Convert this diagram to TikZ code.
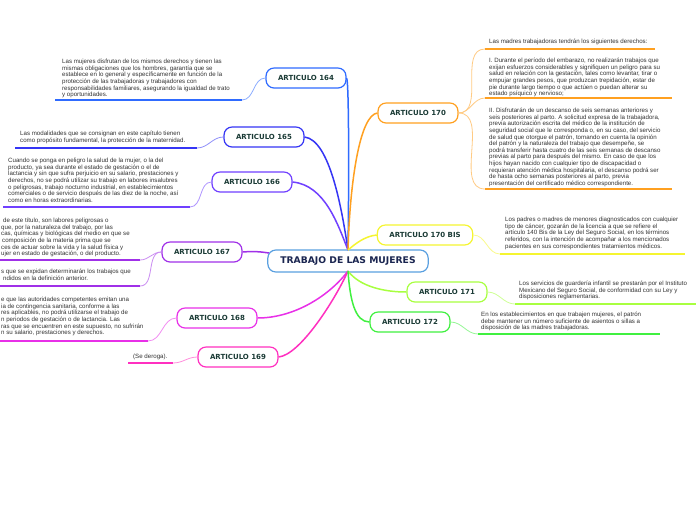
\documentclass[tikz,border=0pt]{standalone}
\usepackage{fontspec}
\setmainfont{Liberation Sans}
\newfontfamily\labelfont{DejaVu Sans}
\definecolor{c164}{HTML}{2F6BFF}
\definecolor{c165}{HTML}{3535F5}
\definecolor{c166}{HTML}{7040FF}
\definecolor{c167}{HTML}{A030E8}
\definecolor{c168}{HTML}{E830E8}
\definecolor{c169}{HTML}{FF30C0}
\definecolor{c170}{HTML}{FFA020}
\definecolor{c170b}{HTML}{F5F530}
\definecolor{c171}{HTML}{A8FF40}
\definecolor{c172}{HTML}{40F040}
\definecolor{ccen}{HTML}{5AA0E0}
\definecolor{labelcol}{HTML}{1B3B36}
\definecolor{titlecol}{HTML}{1A2550}
\definecolor{textcol}{HTML}{333333}
\tikzset{
  art/.style={draw=#1, rounded corners=8pt, line width=1.2pt, fill=white,
    minimum height=20pt, inner xsep=12pt, inner ysep=0pt,
    font=\labelfont\bfseries\fontsize{7}{8}\selectfont, text=labelcol},
  leaf/.style={anchor=north west, align=left, inner sep=0pt,
    font=\fontsize{6.15}{6.6}\selectfont, text=textcol},
  main/.style={draw=#1, line width=1.5pt},
  twig/.style={draw=#1!55!white, line width=0.8pt},
  uline/.style={draw=#1, line width=2pt},
}
\begin{document}
\begin{tikzpicture}[x=1pt,y=-1pt]
\useasboundingbox (0,0) rectangle (696,520);
\fill[white] (0,0) rectangle (696,520);

% central node
\node[draw=ccen, rounded corners=8pt, line width=1.2pt, fill=white,
  minimum height=22pt, inner xsep=12.5pt, inner ysep=0pt,
  font=\labelfont\bfseries\fontsize{9.2}{10}\selectfont, text=titlecol]
  (cen) at (348,261) {TRABAJO DE LAS MUJERES};
\coordinate (ctop) at (348,250);
\coordinate (cbot) at (348,271);
\coordinate (cleft) at (269,253);

% article nodes
\node[art=c164] (a164) at (306,78) {ARTICULO 164};
\node[art=c165] (a165) at (264,137) {ARTICULO 165};
\node[art=c166] (a166) at (252,182) {ARTICULO 166};
\node[art=c167] (a167) at (202,252) {ARTICULO 167};
\node[art=c168] (a168) at (217,318) {ARTICULO 168};
\node[art=c169] (a169) at (238,357) {ARTICULO 169};
\node[art=c170] (a170) at (418,113) {ARTICULO 170};
\node[art=c170b] (a170b) at (425,235) {ARTICULO 170 BIS};
\node[art=c171] (a171) at (447,292) {ARTICULO 171};
\node[art=c172] (a172) at (410,322) {ARTICULO 172};

% main connectors
\draw[main=c164] (a164.east) .. controls (349,80) and (349,180) .. (ctop);
\draw[main=c165] (a165.east) .. controls (330,140) and (342,210) .. (ctop);
\draw[main=c166] (a166.east) .. controls (325,185) and (338,225) .. (ctop);
\draw[main=c170] (a170.west) .. controls (360,115) and (350,180) .. (ctop);
\draw[main=c170b] (a170b.west) .. controls (365,236) and (355,244) .. (ctop);
\draw[main=c167] (a167.east) .. controls (255,251) and (262,252) .. (cleft);
\draw[main=c168] (a168.east) .. controls (295,318) and (330,295) .. (cbot);
\draw[main=c169] (a169.east) .. controls (300,355) and (335,300) .. (cbot);
\draw[main=c171] (cbot) .. controls (360,287) and (385,292) .. (a171.west);
\draw[main=c172] (cbot) .. controls (350,300) and (355,322) .. (a172.west);

% ---- leaf texts ----
% 164
\node[leaf] (t164) at (62,59) {Las mujeres disfrutan de los mismos derechos y tienen las\\
mismas obligaciones que los hombres, garantía que se\\
establece en lo general y específicamente en función de la\\
protección de las trabajadoras y trabajadores con\\
responsabilidades familiares, asegurando la igualdad de trato\\
y oportunidades.};
\coordinate (u164e) at (242,100); \coordinate (u164w) at (55,100);
\draw[twig=c164] (a164.west) to[out=180,in=0] (u164e);
\draw[uline=c164] (u164e) -- (u164w);

% 165
\node[leaf] (t165) at (20,131) {Las modalidades que se consignan en este capítulo tienen\\
como propósito fundamental, la protección de la maternidad.};
\coordinate (u165e) at (197,148); \coordinate (u165w) at (15,148);
\draw[twig=c165] (a165.west) to[out=180,in=0] (u165e);
\draw[uline=c165] (u165e) -- (u165w);

% 166
\node[leaf] (t166) at (8,158) {Cuando se ponga en peligro la salud de la mujer, o la del\\
producto, ya sea durante el estado de gestación o el de\\
lactancia y sin que sufra perjuicio en su salario, prestaciones y\\
derechos, no se podrá utilizar su trabajo en labores insalubres\\
o peligrosas, trabajo nocturno industrial, en establecimientos\\
comerciales o de servicio después de las diez de la noche, así\\
como en horas extraordinarias.};
\coordinate (u166e) at (190,207); \coordinate (u166w) at (3,207);
\draw[twig=c166] (a166.west) to[out=180,in=0] (u166e);
\draw[uline=c166] (u166e) -- (u166w);

% 167
\node[leaf] (t167a) at (1,218) {\hspace{2pt}de este título, son labores peligrosas o\\
que, por la naturaleza del trabajo, por las\\
cas, químicas y biológicas del medio en que se\\
\hspace{1pt}composición de la materia prima que se\\
ces de actuar sobre la vida y la salud física y\\
ujer en estado de gestación, o del producto.};
\coordinate (u167ae) at (140,260); \coordinate (u167aw) at (0,260);
\draw[twig=c167] (a167.west) to[out=180,in=0] (u167ae);
\draw[uline=c167] (u167ae) -- (u167aw);
\node[leaf] (t167b) at (1,269) {s que se expidan determinarán los trabajos que\\
\hspace{2pt}ndidos en la definición anterior.};
\coordinate (u167be) at (140,286); \coordinate (u167bw) at (0,286);
\draw[twig=c167] (a167.west) to[out=180,in=0] (u167be);
\draw[uline=c167] (u167be) -- (u167bw);

% 168
\node[leaf] (t168) at (1,297) {e que las autoridades competentes emitan una\\
ia de contingencia sanitaria, conforme a las\\
res aplicables, no podrá utilizarse el trabajo de\\
n periodos de gestación o de lactancia. Las\\
ras que se encuentren en este supuesto, no sufrirán\\
n su salario, prestaciones y derechos.};
\coordinate (u168e) at (148,341); \coordinate (u168w) at (0,341);
\draw[twig=c168] (a168.west) to[out=180,in=0] (u168e);
\draw[uline=c168] (u168e) -- (u168w);

% 169
\node[leaf] (t169) at (133,354) {(Se deroga).};
\coordinate (u169e) at (173,363); \coordinate (u169w) at (128,363);
\draw[twig=c169] (a169.west) to[out=180,in=0] (u169e);
\draw[uline=c169] (u169e) -- (u169w);

% 170
\node[leaf] (t170h) at (489,39) {Las madres trabajadoras tendrán los siguientes derechos:};
\coordinate (u170hw) at (485,49); \coordinate (u170he) at (655,49);
\draw[twig=c170] (a170.east) to[out=0,in=180] (u170hw);
\draw[uline=c170] (u170hw) -- (u170he);

\node[leaf] (t170a) at (489,58) {I. Durante el período del embarazo, no realizarán trabajos que\\
exijan esfuerzos considerables y signifiquen un peligro para su\\
salud en relación con la gestación, tales como levantar, tirar o\\
empujar grandes pesos, que produzcan trepidación, estar de\\
pie durante largo tiempo o que actúen o puedan alterar su\\
estado psíquico y nervioso;};
\coordinate (u170aw) at (485,98); \coordinate (u170ae) at (672,98);
\draw[twig=c170] (a170.east) to[out=0,in=180] (u170aw);
\draw[uline=c170] (u170aw) -- (u170ae);

\node[leaf] (t170b) at (489,108) {II. Disfrutarán de un descanso de seis semanas anteriores y\\
seis posteriores al parto. A solicitud expresa de la trabajadora,\\
previa autorización escrita del médico de la institución de\\
seguridad social que le corresponda o, en su caso, del servicio\\
de salud que otorgue el patrón, tomando en cuenta la opinión\\
del patrón y la naturaleza del trabajo que desempeñe, se\\
podrá transferir hasta cuatro de las seis semanas de descanso\\
previas al parto para después del mismo. En caso de que los\\
hijos hayan nacido con cualquier tipo de discapacidad o\\
requieran atención médica hospitalaria, el descanso podrá ser\\
de hasta ocho semanas posteriores al parto, previa\\
presentación del certificado médico correspondiente.};
\coordinate (u170bw) at (485,189); \coordinate (u170be) at (672,189);
\draw[twig=c170] (a170.east) to[out=0,in=180] (u170bw);
\draw[uline=c170] (u170bw) -- (u170be);

% 170 BIS
\node[leaf] (t170bis) at (505,217) {Los padres o madres de menores diagnosticados con cualquier\\
tipo de cáncer, gozarán de la licencia a que se refiere el\\
artículo 140 Bis de la Ley del Seguro Social, en los términos\\
referidos, con la intención de acompañar a los mencionados\\
pacientes en sus correspondientes tratamientos médicos.};
\coordinate (u170bisw) at (500,254); \coordinate (u170bise) at (685,254);
\draw[twig=c170b] (a170b.east) to[out=0,in=180] (u170bisw);
\draw[uline=c170b] (u170bisw) -- (u170bise);

% 171
\node[leaf] (t171) at (519,281) {Los servicios de guardería infantil se prestarán por el Instituto\\
Mexicano del Seguro Social, de conformidad con su Ley y\\
disposiciones reglamentarias.};
\coordinate (u171w) at (515,304); \coordinate (u171e) at (696,304);
\draw[twig=c171] (a171.east) to[out=0,in=180] (u171w);
\draw[uline=c171] (u171w) -- (u171e);

% 172
\node[leaf] (t172) at (481,312) {En los establecimientos en que trabajen mujeres, el patrón\\
debe mantener un número suficiente de asientos o sillas a\\
disposición de las madres trabajadoras.};
\coordinate (u172w) at (478,334); \coordinate (u172e) at (660,334);
\draw[twig=c172] (a172.east) to[out=0,in=180] (u172w);
\draw[uline=c172] (u172w) -- (u172e);
\end{tikzpicture}
\end{document}
